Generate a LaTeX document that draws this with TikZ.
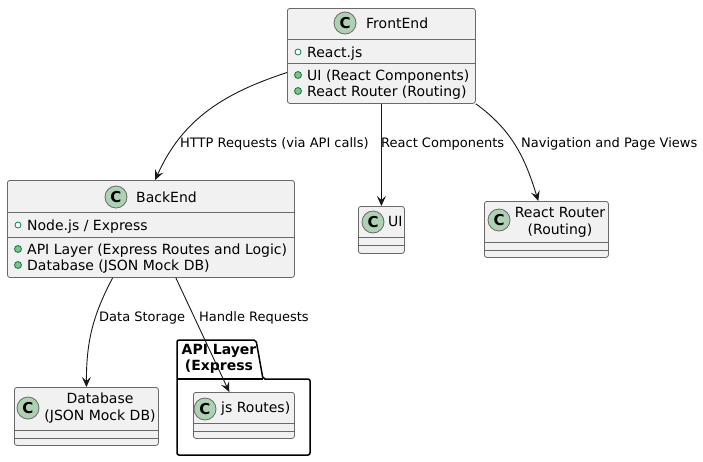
\documentclass[tikz,border=0pt]{standalone}
\usepackage{fontspec}
\setmainfont{DejaVu Sans}
\usetikzlibrary{arrows.meta}
\definecolor{box-fill}{RGB}{241,241,241}
\definecolor{box-line}{RGB}{105,105,105}
\definecolor{circle-fill}{RGB}{173,209,178}
\definecolor{icon-line}{RGB}{3,128,72}
\definecolor{icon-fill}{RGB}{132,190,132}
\definecolor{edge-line}{RGB}{24,24,24}
\tikzset{
    class-box/.style = {draw=box-line, fill=box-fill, line width=0.8pt, rectangle, rounded corners=2.5pt, inner sep=0pt, anchor=north west},
    class-c/.style = {draw=box-line, fill=circle-fill, circle, line width=0.8pt, minimum size=22pt, inner sep=0pt, font=\fontsize{15}{15}\selectfont\bfseries},
    class-name/.style = {inner sep=0pt, anchor=base west, font=\fontsize{14}{17}\selectfont},
    class-name-2/.style = {inner sep=0pt, align=center, font=\fontsize{14}{17}\selectfont},
    member/.style = {inner sep=0pt, anchor=base west, font=\fontsize{14}{16}\selectfont},
    field-dot/.style = {draw=icon-line, fill=white, circle, line width=0.8pt, minimum size=6pt, inner sep=0pt},
    method-dot/.style = {draw=icon-line, fill=icon-fill, circle, line width=0.8pt, minimum size=7pt, inner sep=0pt},
    divider/.style = {draw=box-line, line width=0.8pt},
    rel/.style = {draw=edge-line, line width=0.9pt, -{Stealth[length=10pt, width=9pt, inset=4pt]}},
    rel-label/.style = {inner sep=0pt, anchor=base west, font=\fontsize{13}{15}\selectfont},
    package-box/.style = {draw=black, line width=1.5pt, fill=white, rounded corners=2pt},
    package-title/.style = {inner sep=0pt, align=center, font=\fontsize{14}{16}\selectfont\bfseries},
}

\begin{document}
\begin{tikzpicture}[x=1pt, y=-1pt]
\useasboundingbox (0,0) rectangle (703,461);

\node[class-box, minimum width=188pt, minimum height=95pt] (frontend) at (287,8) {};
\draw[divider] (frontend.west |- 0,39) -- (frontend.east |- 0,39);
\draw[divider] (frontend.west |- 0,63) -- (frontend.east |- 0,63);
\node[class-c] (frontend-c) at (345,23) {C};
\node[class-name] (frontend-name) at (366,28) {FrontEnd};
\node[field-dot] (frontend-f1) at (298,52) {};
\node[member] (frontend-f1-text) at (307,57) {React.js};
\node[method-dot] (frontend-m1) at (298,75) {};
\node[member] (frontend-m1-text) at (307,80) {UI (React Components)};
\node[method-dot] (frontend-m2) at (298,91) {};
\node[member] (frontend-m2-text) at (307,96) {React Router (Routing)};

\node[class-box, minimum width=287pt, minimum height=97pt] (backend) at (7,180) {};
\draw[divider] (backend.west |- 0,212) -- (backend.east |- 0,212);
\draw[divider] (backend.west |- 0,237) -- (backend.east |- 0,237);
\node[class-c] (backend-c) at (116,197) {C};
\node[class-name] (backend-name) at (136,202) {BackEnd};
\node[field-dot] (backend-f1) at (18,225) {};
\node[member] (backend-f1-text) at (27,230) {Node.js / Express};
\node[method-dot] (backend-m1) at (18,249) {};
\node[member] (backend-m1-text) at (27,254) {API Layer (Express Routes and Logic)};
\node[method-dot] (backend-m2) at (18,265) {};
\node[member] (backend-m2-text) at (27,270) {Database (JSON Mock DB)};

\node[class-box, minimum width=46pt, minimum height=47pt] (ui) at (358,206) {};
\draw[divider] (ui.west |- 0,237) -- (ui.east |- 0,237);
\draw[divider] (ui.west |- 0,245) -- (ui.east |- 0,245);
\node[class-c] (ui-c) at (373,222) {C};
\node[class-name] (ui-name) at (388,226) {UI};

\node[class-box, minimum width=124pt, minimum height=56pt] (router) at (484,201) {};
\draw[divider] (router.west |- 0,242) -- (router.east |- 0,242);
\draw[divider] (router.west |- 0,250) -- (router.east |- 0,250);
\node[class-c] (router-c) at (499,220) {C};
\node[class-name-2] (router-name) at (560,222) {React Router\\(Routing)};

\node[class-box, minimum width=144pt, minimum height=58pt] (database) at (14,387) {};
\draw[divider] (database.west |- 0,430) -- (database.east |- 0,430);
\draw[divider] (database.west |- 0,438) -- (database.east |- 0,438);
\node[class-c] (database-c) at (28,408) {C};
\node[class-name-2] (database-name) at (100,408) {Database\\(JSON Mock DB)};

\draw[package-box] (177,455) -- (177,340) -- (256,340) -- (263,379) -- (310,379) -- (310,455) -- cycle;
\draw[package-box] (177,379) -- (263,379);
\node[package-title] (api-title) at (219,359) {API Layer\\(Express};

\node[class-box, minimum width=101pt, minimum height=46pt] (jsroutes) at (193,392) {};
\draw[divider] (jsroutes.west |- 0,423) -- (jsroutes.east |- 0,423);
\draw[divider] (jsroutes.west |- 0,431) -- (jsroutes.east |- 0,431);
\node[class-c] (jsroutes-c) at (205,409) {C};
\node[class-name] (jsroutes-name) at (221,412) {js Routes)};

\draw[rel] (frontend.190) to[out=198, in=66] (backend.85);
\draw[rel] (frontend.south) -- (ui.north);
\draw[rel] (frontend.south east) to[out=-36, in=107] (router.106);
\draw[rel] (backend.-128) to[out=-118, in=90] (database.north);
\draw[rel] (backend.-63) -- (jsroutes.122);

\node[rel-label] (http-label) at (180,147) {HTTP Requests (via API calls)};
\node[rel-label] (components-label) at (381,147) {React Components};
\node[rel-label] (navigation-label) at (521,147) {Navigation and Page Views};
\node[rel-label] (storage-label) at (99,321) {Data Storage};
\node[rel-label] (requests-label) at (199,321) {Handle Requests};
\end{tikzpicture}
\end{document}
